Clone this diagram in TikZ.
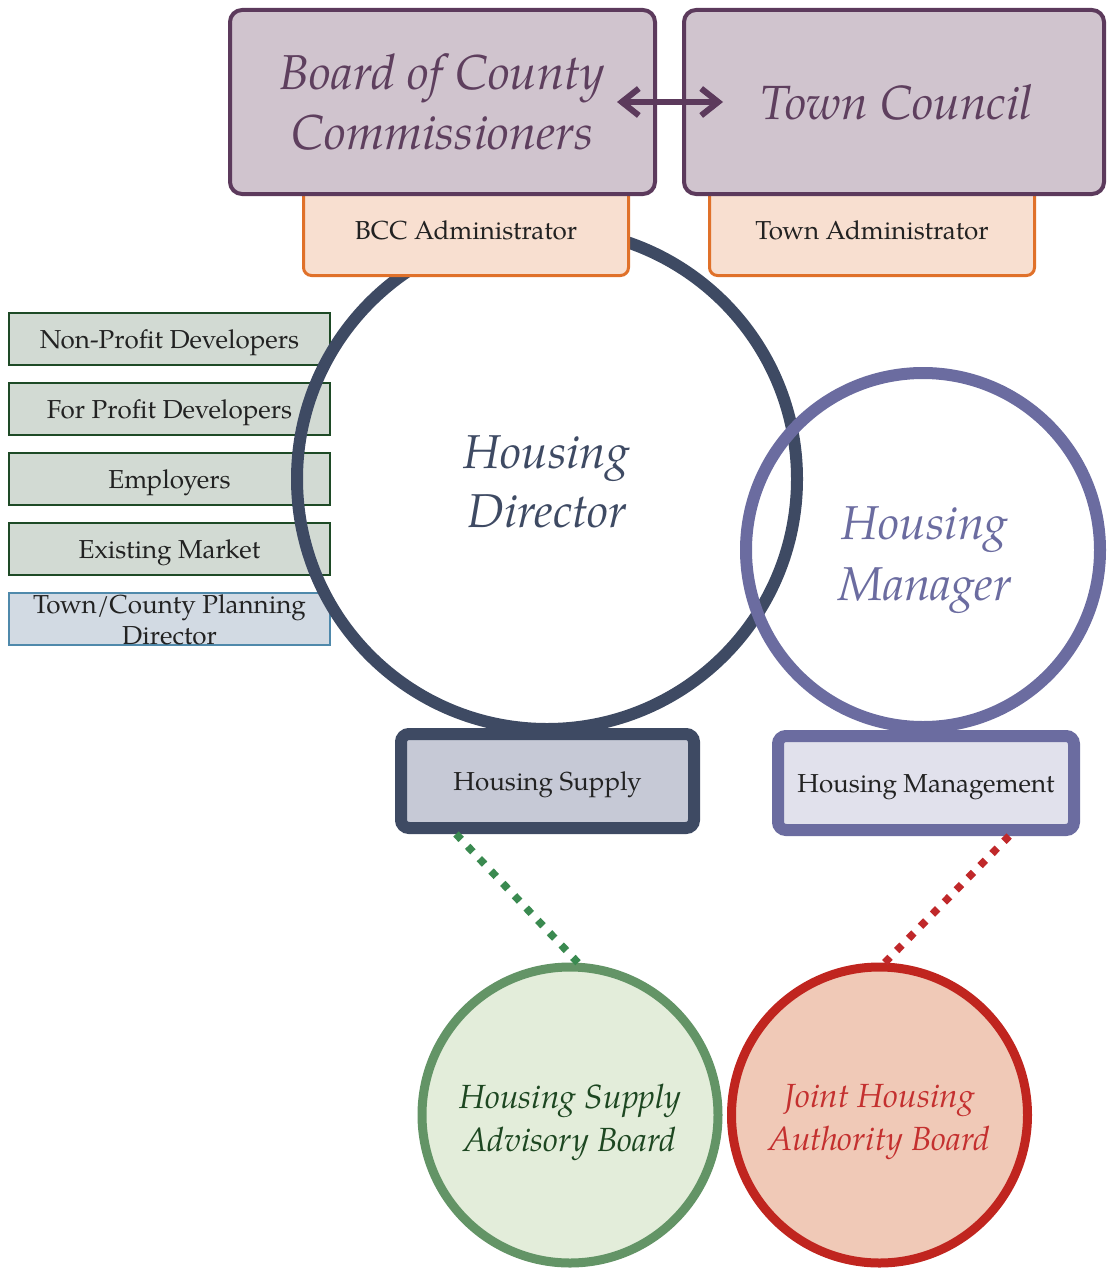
\documentclass[tikz,border=0pt]{standalone}
\usepackage{fontspec}
\setmainfont{TeX Gyre Pagella}
\usetikzlibrary{arrows.meta,calc}
\definecolor{pborder}{HTML}{5C3A5C}
\definecolor{pfill}{HTML}{D0C4CE}
\definecolor{ptext}{HTML}{5E3F5E}
\definecolor{oborder}{HTML}{E0712A}
\definecolor{ofill}{HTML}{F8DFD0}
\definecolor{navy}{HTML}{3E4A63}
\definecolor{mgr}{HTML}{6B6CA0}
\definecolor{supfill}{HTML}{C6C9D6}
\definecolor{mgmfill}{HTML}{E1E1EC}
\definecolor{gdot}{HTML}{3A8A50}
\definecolor{rdot}{HTML}{C0282A}
\definecolor{gfill}{HTML}{E3EDDA}
\definecolor{gborder}{HTML}{639466}
\definecolor{gtext}{HTML}{1D4721}
\definecolor{rfill}{HTML}{F0C9B7}
\definecolor{rborder}{HTML}{C0251F}
\definecolor{rtext}{HTML}{C4302F}
\definecolor{lgfill}{HTML}{D2DAD3}
\definecolor{lgborder}{HTML}{1E4A26}
\definecolor{lbfill}{HTML}{D2DAE3}
\definecolor{lbborder}{HTML}{4F89AB}
\definecolor{txt}{HTML}{222222}
\begin{document}
\begin{tikzpicture}[x=1pt,y=-1pt,
  leftbox/.style={draw=lgborder, fill=lgfill, line width=2pt, minimum width=321pt, minimum height=52pt, inner sep=0pt, text depth=0pt, font=\fontsize{26}{30}\selectfont, text=txt},
  planbox/.style={leftbox, draw=lbborder, fill=lbfill},
  adminbox/.style={draw=oborder, fill=ofill, line width=3pt, rounded corners=8pt, minimum width=325pt, minimum height=91pt, inner sep=0pt, font=\fontsize{26}{30}\selectfont, text=txt},
  topbox/.style={draw=pborder, fill=pfill, line width=4pt, rounded corners=12pt, minimum height=184pt, inner sep=0pt, align=center, text=ptext},
  bigcirc/.style={circle, line width=12pt, inner sep=0pt},
  bigtext/.style={inner sep=0pt, align=center, font=\fontsize{47.5}{59}\selectfont\itshape},
  rolebox/.style={line width=12pt, rounded corners=8pt, minimum width=293pt, minimum height=94pt, inner sep=0pt, text depth=0pt, font=\fontsize{26}{30}\selectfont, text=txt},
  board/.style={circle, line width=9pt, minimum size=296pt, inner sep=0pt},
  boardtext/.style={inner sep=0pt, align=center, font=\fontsize{33.5}{43}\selectfont\itshape},
  dots/.style={line width=7.5pt, dash pattern=on 7.5pt off 9.5pt}
]
\useasboundingbox (0,0) rectangle (1107,1271);
\clip (0,0) rectangle (1107,1271);

% left stakeholder boxes
\node[leftbox] (npd) at (169.5,339) {Non-Profit Developers};
\node[leftbox] (fpd) at (169.5,409) {For Profit Developers};
\node[leftbox] (emp) at (169.5,479) {Employers};
\node[leftbox] (exm) at (169.5,549) {Existing Market};
\node[planbox] (tcp) at (169.5,619) {};
\node[font=\fontsize{26}{31}\selectfont, text=txt, align=center, inner sep=0pt] (tcptext) at ($(tcp.center)+(0,1)$) {Town/County Planning\\Director};

% central circles
\node[bigcirc, draw=navy, minimum size=500pt] (dir) at (547,479) {};
\node[bigtext, text=navy] (dirtext) at ($(dir.center)+(0,3)$) {Housing\\Director};
\node[bigcirc, draw=mgr, minimum size=354pt] (mgr) at (923,550) {};
\node[bigtext, text=mgr, font=\fontsize{47.5}{61}\selectfont\itshape] (mgrtext) at ($(mgr.center)+(2,10)$) {Housing\\Manager};

% administrators
\node[adminbox] (bccadm) at (466,230) {BCC Administrator};
\node[adminbox] (townadm) at (872,230) {Town Administrator};

% top boxes
\node[topbox, minimum width=425pt, font=\fontsize{49}{60}\selectfont\itshape] (bcc) at (442.5,102) {Board of County\\Commissioners};
\node[topbox, minimum width=420pt, font=\fontsize{48}{60}\selectfont\itshape] (town) at (894,102) {\hspace*{6pt}Town Council};
\draw[pborder, line width=6pt, {Straight Barb[length=17pt,width=27pt]}-{Straight Barb[length=17pt,width=27pt]}]
  ($(bcc.east)+(-40,0)$) -- ($(town.west)+(41,0)$);

% role boxes
\node[rolebox, draw=navy, fill=supfill] (sup) at (547.5,781) {Housing Supply};
\node[rolebox, draw=mgr, fill=mgmfill, minimum width=296pt] (mgm) at (926,783) {Housing Management};

% boards
\node[board, draw=gborder, fill=gfill] (hsab) at (570,1115) {};
\node[boardtext, text=gtext] (hsabtext) at ($(hsab.center)+(0,7)$) {Housing Supply\\Advisory Board};
\node[board, draw=rborder, fill=rfill] (jhab) at (879.5,1115) {};
\node[boardtext, text=rtext] (jhabtext) at ($(jhab.center)+(0,7)$) {Joint Housing\\Authority Board};

% dotted links
\draw[dots, gdot] ($(sup.south west)!0.2!(sup.south east)$) -- (hsab.87);
\draw[dots, rdot] ($(mgm.south west)!0.77!(mgm.south east)$) -- (jhab.88);
\end{tikzpicture}
\end{document}
